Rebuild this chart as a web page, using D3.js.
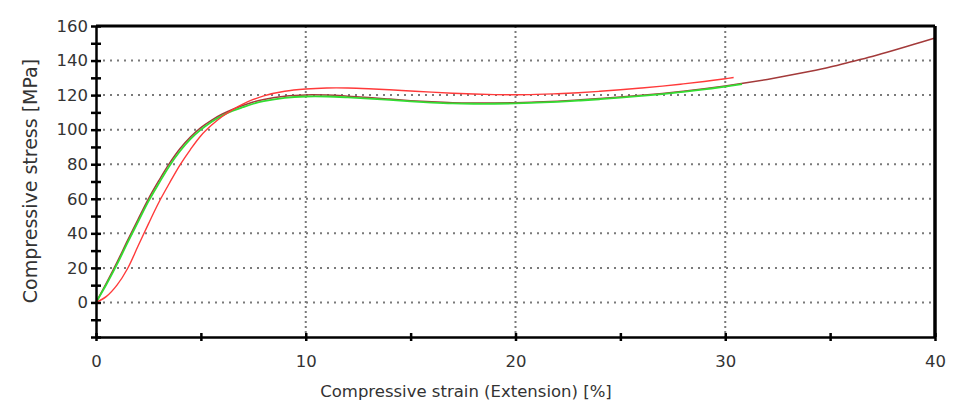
<!DOCTYPE html>
<html>
<head>
<meta charset="utf-8">
<script src="https://cdn.jsdelivr.net/npm/d3@7"></script>
<style>
  body { margin: 0; background: #fff; }
  svg { display: block; font-family: "DejaVu Sans", Verdana, sans-serif; }
</style>
</head>
<body>
<svg id="chart"></svg>
<script>
// strain [%] / stress [MPa]
const strainGreen = [0, 0.5, 1, 1.5, 2, 2.5, 3, 3.5, 4, 4.5, 5, 5.5, 6, 6.5, 7, 7.5, 8, 9, 10, 11, 12, 13, 14, 15, 16, 17, 18, 19, 20, 21, 22, 23, 24, 25, 26, 27, 28, 29, 30, 30.8];
const stressGreen = [0, 10.5, 22, 34.5, 46.5, 58.5, 69, 79, 87.5, 94.5, 100, 104.5, 108, 110.8, 113, 115, 116.5, 118.4, 119.2, 119.2, 118.7, 118, 117.2, 116.4, 115.7, 115.2, 115, 115, 115.2, 115.6, 116.1, 116.8, 117.6, 118.5, 119.5, 120.6, 121.9, 123.3, 124.9, 126.3];

const strainRed = [0, 0.5, 1, 1.5, 2, 2.5, 3, 3.5, 4, 4.5, 5, 5.5, 6, 6.5, 7, 7.5, 8, 9, 10, 11, 12, 13, 14, 15, 16, 17, 18, 19, 20, 21, 22, 23, 24, 25, 26, 27, 28, 29, 30, 30.4];
const stressRed = [0, 3.5, 10, 19.5, 32.5, 45.5, 58, 69, 79.5, 88.5, 96.5, 102.5, 107.5, 111.5, 114.8, 117.5, 119.6, 122.2, 123.5, 124.1, 124.1, 123.7, 123.1, 122.4, 121.7, 121.1, 120.6, 120.3, 120.2, 120.4, 120.8, 121.4, 122.2, 123.1, 124.1, 125.2, 126.5, 127.9, 129.5, 130.2];

const strainDark = [0, 0.5, 1, 1.5, 2, 2.5, 3, 3.5, 4, 4.5, 5, 5.5, 6, 6.5, 7, 7.5, 8, 9, 10, 11, 12, 13, 14, 15, 16, 17, 18, 19, 20, 21, 22, 23, 24, 25, 26, 27, 28, 29, 30, 31, 32, 33, 34, 35, 36, 37, 38, 39, 40];
const stressDark = [0, 11.3, 23.2, 35.8, 48, 60, 70.6, 80.5, 89, 95.8, 101.2, 105.4, 108.9, 111.7, 114, 116, 117.5, 119.4, 120.1, 120, 119.4, 118.6, 117.7, 116.8, 116.1, 115.6, 115.4, 115.4, 115.6, 116, 116.5, 117.2, 118, 118.9, 119.9, 121, 122.3, 123.7, 125.3, 127.1, 129.1, 131.3, 133.7, 136.3, 139.3, 142.4, 145.8, 149.4, 153];

const xTickLabels = [0, 10, 20, 30, 40];
const yTickLabels = [0, 20, 40, 60, 80, 100, 120, 140, 160];

class StressStrainChart {

    constructor( config ) {
        this.config = {
            parent: config.parent,
            width: config.width || 975,
            height: config.height || 417,
            margin: config.margin || {top:26, right:40, bottom:80, left:96}
        }
        // drawing order: dark one underneath, green over it, red on top
        this.series = [
            { strain: strainDark, stress: stressDark, color: '#a33a3a', width: 1.5 },
            { strain: strainGreen, stress: stressGreen, color: '#33dd33', width: 1.8 },
            { strain: strainRed, stress: stressRed, color: '#ff3a3a', width: 1.4 }
        ];
        this.init();
    }

    init() {
        let self = this;

        self.svg = d3.select( self.config.parent )
            .attr('width', self.config.width)
            .attr('height', self.config.height);

        self.inner_width = self.config.width - self.config.margin.left - self.config.margin.right;
        self.inner_height = self.config.height - self.config.margin.top - self.config.margin.bottom;

        self.chart = self.svg.append('g')
            .attr('transform', `translate(${self.config.margin.left}, ${self.config.margin.top})`);

        self.xscale = d3.scaleLinear()
            .domain( [0, 40] )
            .range( [0, self.inner_width] );

        self.yscale = d3.scaleLinear()
            .domain( [-20, 160] )
            .range( [self.inner_height, 0] );

        self.line = d3.line()
            .x( d => self.xscale( d[0] ) )
            .y( d => self.yscale( d[1] ) )
            .curve( d3.curveCatmullRom );
    }

    render() {
        let self = this;

        // dotted grid
        self.chart.append('g')
            .selectAll('line')
            .data( yTickLabels.filter(v => v < 160) )
            .join('line')
            .attr('x1', 0)
            .attr('x2', self.inner_width)
            .attr('y1', d => self.yscale(d))
            .attr('y2', d => self.yscale(d))
            .attr('stroke', '#7a7a7a')
            .attr('stroke-width', 2)
            .attr('stroke-dasharray', '2,5');

        self.chart.append('g')
            .selectAll('line')
            .data( [10, 20, 30] )
            .join('line')
            .attr('x1', d => self.xscale(d))
            .attr('x2', d => self.xscale(d))
            .attr('y1', 0)
            .attr('y2', self.inner_height)
            .attr('stroke', '#7a7a7a')
            .attr('stroke-width', 2)
            .attr('stroke-dasharray', '2,3');

        // curves
        self.series.forEach( s => {
            self.chart.append('path')
                .attr('d', self.line( d3.zip(s.strain, s.stress) ))
                .attr('fill', 'none')
                .attr('stroke', s.color)
                .attr('stroke-width', s.width);
        });

        // frame top + right
        self.chart.append('line')
            .attr('x1', 0).attr('x2', self.inner_width)
            .attr('y1', 0).attr('y2', 0)
            .attr('stroke', 'black').attr('stroke-width', 3);
        self.chart.append('line')
            .attr('x1', self.inner_width).attr('x2', self.inner_width)
            .attr('y1', 0).attr('y2', self.inner_height)
            .attr('stroke', 'black').attr('stroke-width', 3.5);

        // axes
        self.xaxis = d3.axisBottom( self.xscale )
            .tickValues( d3.range(0, 41, 5) )
            .tickFormat( d => xTickLabels.includes(d) ? d : '' )
            .tickSize(4)
            .tickSizeOuter(0)
            .tickPadding(14);

        self.yaxis = d3.axisLeft( self.yscale )
            .tickValues( d3.range(-20, 161, 10) )
            .tickFormat( d => yTickLabels.includes(d) ? d : '' )
            .tickSize(5)
            .tickSizeOuter(0)
            .tickPadding(3);

        self.xaxis_group = self.chart.append('g')
            .attr('transform', `translate(0, ${self.inner_height})`)
            .call( self.xaxis );
        self.xaxis_group.selectAll('.tick line').attr('y1', -4);

        self.yaxis_group = self.chart.append('g')
            .call( self.yaxis );
        self.yaxis_group.selectAll('.tick line').attr('x1', 5);

        self.chart.selectAll('.domain')
            .attr('stroke', 'black')
            .attr('stroke-width', 2.5);
        self.chart.selectAll('.tick line')
            .attr('stroke', 'black')
            .attr('stroke-width', 2.5);
        self.chart.selectAll('.tick text')
            .attr('fill', '#333')
            .attr('font-size', '16.5px')
            .attr('font-family', '"DejaVu Sans", Verdana, sans-serif');

        // axis titles
        self.svg.append('text')
            .attr('x', -181)
            .attr('y', 37)
            .attr('transform', 'rotate(-90)')
            .attr('text-anchor', 'middle')
            .attr('fill', '#333')
            .attr('font-size', '19px')
            .text('Compressive stress [MPa]');

        self.svg.append('text')
            .attr('x', 466)
            .attr('y', 397)
            .attr('text-anchor', 'middle')
            .attr('fill', '#333')
            .attr('font-size', '16.5px')
            .text('Compressive strain (Extension) [%]');
    }
}

const chart = new StressStrainChart({ parent: '#chart' });
chart.render();
</script>
</body>
</html>
